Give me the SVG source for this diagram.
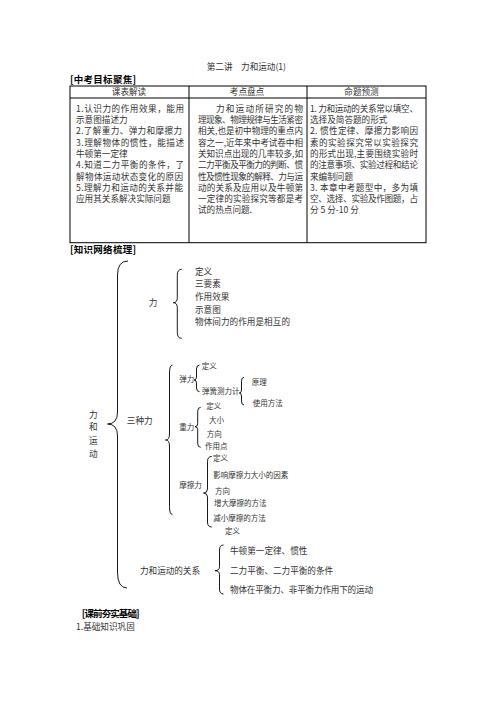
<svg xmlns="http://www.w3.org/2000/svg" width="496" height="702" viewBox="0 0 496 702">
<style>
.t{font-family:"Noto Sans CJK SC","Noto Sans",sans-serif;fill:#333;font-size:8.6px}
.s{font-size:7.5px}
.b{font-family:"Noto Sans CJK SC",sans-serif;font-weight:bold;fill:#000;font-size:9.5px}
.br{fill:none;stroke:#000;stroke-width:0.9}
.grid{fill:none;stroke:#000;stroke-width:1}
</style>
<rect width="496" height="702" fill="#fff"/>
<g id="title">
<text class="t" x="206.7" y="70" font-size="9">第二讲　力和运动(1)</text>
</g>
<g id="sec1"><text class="b" x="70" y="82.7" textLength="66">[中考目标聚焦]</text></g>
<g id="table">
<rect class="grid" x="70" y="86" width="356" height="156.7" stroke-width="1.3"/>
<line class="grid" x1="70" y1="98" x2="426" y2="98"/>
<line class="grid" x1="189" y1="86" x2="189" y2="242.7"/>
<line class="grid" x1="307" y1="86" x2="307" y2="242.7"/>
<text class="t" x="129" y="95" text-anchor="middle" font-size="9">课表解读</text>
<text class="t" x="247" y="95" text-anchor="middle" font-size="9">考点盘点</text>
<text class="t" x="361.5" y="95" text-anchor="middle" font-size="9">命题预测</text>
<g id="col1">
<text class="t" x="76" y="111.7" textLength="108">1.认识力的作用效果，能用</text>
<text class="t" x="76" y="123">示意图描述力</text>
<text class="t" x="76" y="134.3" textLength="106">2.了解重力、弹力和摩擦力</text>
<text class="t" x="76" y="145.6" textLength="108">3.理解物体的惯性，能描述</text>
<text class="t" x="76" y="156.9">牛顿第一定律</text>
<text class="t" x="76" y="168.2" textLength="108">4.知道二力平衡的条件，了</text>
<text class="t" x="76" y="179.5" textLength="107">解物体运动状态变化的原因</text>
<text class="t" x="76" y="190.8" textLength="107">5.理解力和运动的关系并能</text>
<text class="t" x="76" y="202.1">应用其关系解决实际问题</text>
</g>
<g id="col2">
<text class="t" x="216" y="111.7" textLength="87">力和运动所研究的物</text>
<text class="t" x="198" y="123" textLength="105">理现象、物理规律与生活紧密</text>
<text class="t" x="198" y="134.3" textLength="105">相关,也是初中物理的重点内</text>
<text class="t" x="198" y="145.6" textLength="105">容之一,近年来中考试卷中相</text>
<text class="t" x="198" y="156.9" textLength="105">关知识点出现的几率较多,如</text>
<text class="t" x="198" y="168.2" textLength="105">二力平衡及平衡力的判断、惯</text>
<text class="t" x="198" y="179.5" textLength="105">性及惯性现象的解释、力与运</text>
<text class="t" x="198" y="190.8" textLength="105">动的关系及应用以及牛顿第</text>
<text class="t" x="198" y="202.1" textLength="105">一定律的实验探究等都是考</text>
<text class="t" x="198" y="213.4">试的热点问题.</text>
</g>
<g id="col3">
<text class="t" x="310" y="111.7" textLength="108">1. 力和运动的关系常以填空、</text>
<text class="t" x="310" y="123">选择及简答题的形式</text>
<text class="t" x="310" y="134.3" textLength="108">2. 惯性定律、摩擦力影响因</text>
<text class="t" x="310" y="145.6" textLength="108">素的实验探究常以实验探究</text>
<text class="t" x="310" y="156.9" textLength="108">的形式出现,主要围绕实验时</text>
<text class="t" x="310" y="168.2" textLength="108">的注意事项、实验过程和结论</text>
<text class="t" x="310" y="179.5">来编制问题</text>
<text class="t" x="310" y="190.8" textLength="108">3. 本章中考题型中，多为填</text>
<text class="t" x="310" y="202.1" textLength="108">空、选择、实验及作图题，占</text>
<text class="t" x="310" y="213.4">分 5 分-10 分</text>
</g>
</g>
<g id="sec2"><text class="b" x="70" y="253.4" textLength="66">[知识网络梳理]</text></g>
<g id="connectors">
<path class="br" d="M128,261 Q117.5,261 117.5,275 L117.5,412 Q117.5,424 107.5,424 Q117.5,424 117.5,436 L117.5,572 Q117.5,588 127,588"/>
<path class="br" d="M181.7,269.3 Q177.3,269.3 177.3,275.3 L177.3,297.7 Q177.3,302.7 173.3,302.7 Q177.3,302.7 177.3,307.7 L177.3,332.3 Q177.3,338.3 181.7,338.3"/>
<path class="br" d="M172.5,365 Q169.5,365 169.5,373 L169.5,434 Q169.5,440 165.5,440 Q169.5,440 169.5,446 L169.5,506.5 Q169.5,514.5 172.5,514.5"/>
<path class="br" d="M199.5,365 Q196.5,365 196.5,369 L196.5,377 Q196.5,380 194,380 Q196.5,380 196.5,383 L196.5,388 Q196.5,391.7 199.5,391.7"/>
<path class="br" d="M244,377.3 Q241.5,377.3 241.5,381.3 L241.5,390 Q241.5,393 239.3,393 Q241.5,393 241.5,396 L241.5,401 Q241.5,405 244,405"/>
<path class="br" d="M200.7,407.3 Q197.7,407.3 197.7,411.3 L197.7,423.7 Q197.7,426.7 195,426.7 Q197.7,426.7 197.7,429.7 L197.7,443.3 Q197.7,447.3 200.7,447.3"/>
<path class="br" d="M211.7,456.5 Q207.5,456.5 207.5,461.5 L207.5,489 Q207.5,493 203.5,493 Q207.5,493 207.5,497 L207.5,522 Q207.5,527 211.7,527"/>
<path class="br" d="M223.5,545 Q219.5,545 219.5,550 L219.5,566.7 Q219.5,570.7 215,570.7 Q219.5,570.7 219.5,574.7 L219.5,589 Q219.5,594 223.5,594"/>
</g>
<g id="root">
<text class="t" x="93.3" y="417.8" text-anchor="middle" font-size="8">力</text>
<text class="t" x="93.3" y="430.3" text-anchor="middle" font-size="8">和</text>
<text class="t" x="93.3" y="443.5" text-anchor="middle" font-size="8">运</text>
<text class="t" x="93.3" y="456.5" text-anchor="middle" font-size="8">动</text>
</g>
<g id="li"><text class="t" x="153" y="306" text-anchor="middle" font-size="9">力</text></g>
<g id="li-items">
<text class="t" x="195" y="275" font-size="8.7">定义</text>
<text class="t" x="195" y="286.6" font-size="8.7">三要素</text>
<text class="t" x="195" y="300" font-size="8.7">作用效果</text>
<text class="t" x="195" y="312.6" font-size="8.7">示意图</text>
<text class="t" x="195" y="325" font-size="8.7" textLength="95">物体间力的作用是相互的</text>
</g>
<g id="sanzhongli"><text class="t" x="126.7" y="424" font-size="9" textLength="26">三种力</text></g>
<g id="tanli"><text class="t s" x="179.3" y="382" font-size="7">弹力</text></g>
<g id="tanli-items">
<text class="t s" x="201.7" y="369.2">定义</text>
<text class="t s" x="202" y="394.4">弹簧测力计</text>
</g>
<g id="celiji-items">
<text class="t s" x="251.7" y="384.5">原理</text>
<text class="t s" x="252.7" y="405.5">使用方法</text>
</g>
<g id="zhongli"><text class="t s" x="179.3" y="429.5">重力</text></g>
<g id="zhongli-items">
<text class="t s" x="206.3" y="408.8">定义</text>
<text class="t s" x="209" y="422.8">大小</text>
<text class="t s" x="206.7" y="436.5">方向</text>
<text class="t s" x="205" y="449">作用点</text>
</g>
<g id="mocali"><text class="t s" x="179.3" y="487.5">摩擦力</text></g>
<g id="mocali-items">
<text class="t s" x="213" y="461">定义</text>
<text class="t s" x="213.3" y="477.8">影响摩擦力大小的因素</text>
<text class="t s" x="215" y="493.5">方向</text>
<text class="t s" x="214" y="506">增大摩擦的方法</text>
<text class="t s" x="213.3" y="521">减小摩擦的方法</text>
<text class="t s" x="225" y="533.5">定义</text>
</g>
<g id="guanxi"><text class="t" x="140" y="573.8" font-size="8.7" textLength="60">力和运动的关系</text></g>
<g id="guanxi-items">
<text class="t" x="230" y="553.5" font-size="8.5">牛顿第一定律、惯性</text>
<text class="t" x="230" y="573.8" font-size="8.5">二力平衡、二力平衡的条件</text>
<text class="t" x="230" y="593.2" font-size="8.5" textLength="143">物体在平衡力、非平衡力作用下的运动</text>
</g>
<g id="sec3"><text class="b" x="81.7" y="616.5" font-size="9" textLength="58">[课前夯实基础]</text></g>
<g id="item1"><text class="t" x="76" y="629.7" font-size="8.5">1.基础知识巩固</text></g>
</svg>
